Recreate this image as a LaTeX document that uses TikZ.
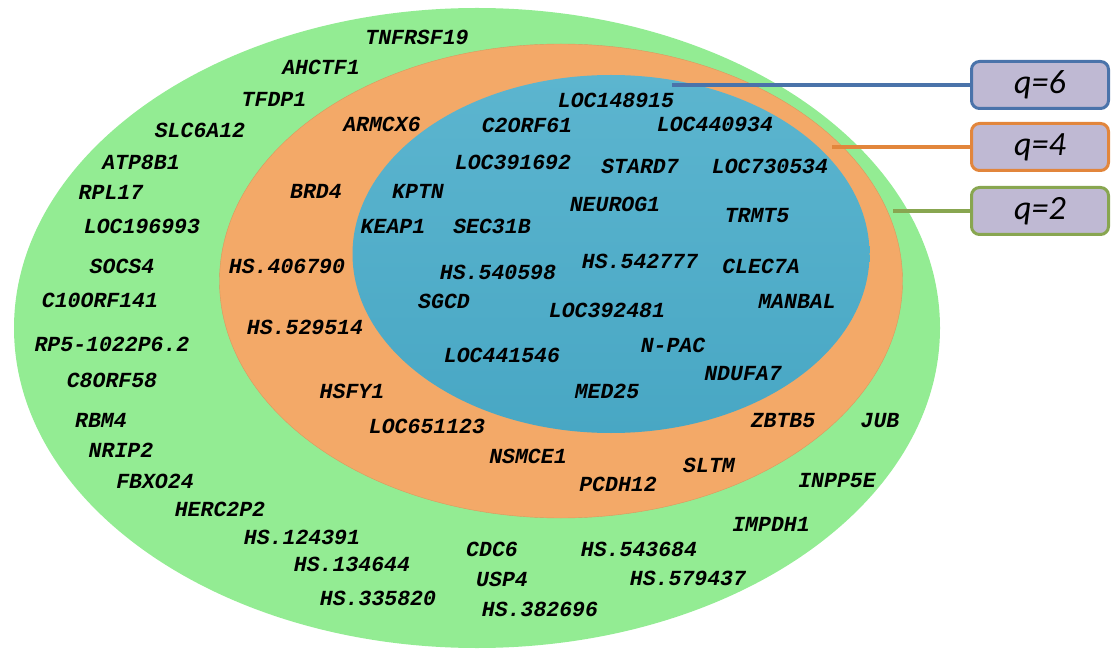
\documentclass[tikz,border=0pt]{standalone}
\usepackage{fontspec}
\setmonofont{Liberation Mono}
\newfontfamily\boxfont{Carlito}
\definecolor{ringgreen}{RGB}{147,236,147}
\definecolor{ringorange}{RGB}{243,169,104}
\definecolor{ringbluetop}{RGB}{92,181,207}
\definecolor{ringbluebot}{RGB}{72,167,196}
\definecolor{boxfill}{RGB}{191,185,211}
\definecolor{edgeblue}{RGB}{74,115,170}
\definecolor{edgeorange}{RGB}{226,134,60}
\definecolor{edgegreen}{RGB}{136,166,80}
\usetikzlibrary{positioning, shapes.geometric}

\begin{document}
\begin{tikzpicture}[
  x=1pt, y=-1pt,
  ring/.style={ellipse, inner sep=0pt, minimum width=#1},
  gene/.style={font=\fontsize{21.5}{24}\selectfont\ttfamily\bfseries\itshape, inner sep=0pt},
  qbox/.style={draw=#1, line width=3pt, rounded corners=8pt, fill=boxfill,
               minimum width=137pt, minimum height=47pt,
               font=\fontsize{34}{36}\selectfont\boxfont\itshape},
  lead/.style={draw=#1, line width=3.5pt},
]
\useasboundingbox (0,0) rectangle (1111,652);

% --- Three nested rings ---
\node[ring=926pt, minimum height=640pt, fill=ringgreen] (ring2) at (477,328) {};
\node[ring=683pt, minimum height=474pt, fill=ringorange, draw=ringorange!90!black, line width=0.4pt] (ring4) at (561,281) {};
\node[ring=517pt, minimum height=358pt, top color=ringbluetop, bottom color=ringbluebot] (ring6) at (611,254) {};

% --- Genes with q=2 ---
\node[gene] (g01) at (417,37)  {TNFRSF19};
\node[gene] (g02) at (321,67)  {AHCTF1};
\node[gene] (g03) at (274,99)  {TFDP1};
\node[gene] (g04) at (200,130) {SLC6A12};
\node[gene] (g05) at (141,162) {ATP8B1};
\node[gene] (g06) at (111,192) {RPL17};
\node[gene] (g07) at (142,226) {LOC196993};
\node[gene] (g08) at (122,266) {SOCS4};
\node[gene] (g09) at (100,300) {C10ORF141};
\node[gene] (g10) at (112,344) {RP5-1022P6.2};
\node[gene] (g11) at (112,380) {C8ORF58};
\node[gene] (g12) at (101,420) {RBM4};
\node[gene] (g13) at (121,450) {NRIP2};
\node[gene] (g14) at (155,481) {FBXO24};
\node[gene] (g15) at (220,509) {HERC2P2};
\node[gene] (g16) at (302,537) {HS.124391};
\node[gene] (g17) at (352,564) {HS.134644};
\node[gene] (g18) at (378,598) {HS.335820};
\node[gene] (g19) at (492,549) {CDC6};
\node[gene] (g20) at (502,579) {USP4};
\node[gene] (g21) at (540,609) {HS.382696};
\node[gene] (g22) at (639,549) {HS.543684};
\node[gene] (g23) at (688,578) {HS.579437};
\node[gene] (g24) at (771,524) {IMPDH1};
\node[gene] (g25) at (837,481) {INPP5E};
\node[gene] (g26) at (880,421) {JUB};

% --- Genes with q=4 ---
\node[gene] (h01) at (382,124) {ARMCX6};
\node[gene] (h02) at (316,191) {BRD4};
\node[gene] (h03) at (287,266) {HS.406790};
\node[gene] (h04) at (305,327) {HS.529514};
\node[gene] (h05) at (352,391) {HSFY1};
\node[gene] (h06) at (427,426) {LOC651123};
\node[gene] (h07) at (528,456) {NSMCE1};
\node[gene] (h08) at (618,484) {PCDH12};
\node[gene] (h09) at (709,465) {SLTM};
\node[gene] (h10) at (783,421) {ZBTB5};

% --- Genes with q=6 ---
\node[gene] (k01) at (616,100) {LOC148915};
\node[gene] (k02) at (527,125) {C2ORF61};
\node[gene] (k03) at (715,124) {LOC440934};
\node[gene] (k04) at (513,162) {LOC391692};
\node[gene] (k05) at (640,166) {STARD7};
\node[gene] (k06) at (770,166) {LOC730534};
\node[gene] (k07) at (418,191) {KPTN};
\node[gene] (k08) at (615,204) {NEUROG1};
\node[gene] (k09) at (757,216) {TRMT5};
\node[gene] (k10) at (393,226) {KEAP1};
\node[gene] (k11) at (492,226) {SEC31B};
\node[gene] (k12) at (640,261) {HS.542777};
\node[gene] (k13) at (498,272) {HS.540598};
\node[gene] (k14) at (761,266) {CLEC7A};
\node[gene] (k15) at (444,301) {SGCD};
\node[gene] (k16) at (607,310) {LOC392481};
\node[gene] (k17) at (797,301) {MANBAL};
\node[gene] (k18) at (673,345) {N-PAC};
\node[gene] (k19) at (502,355) {LOC441546};
\node[gene] (k20) at (743,374) {NDUFA7};
\node[gene] (k21) at (607,391) {MED25};

% --- Legend boxes ---
\node[qbox=edgeblue]   (q6) at (1040,85)  {q=6};
\node[qbox=edgeorange] (q4) at (1040,147) {q=4};
\node[qbox=edgegreen]  (q2) at (1040,211) {q=2};

% --- Leader lines into the rings ---
\coordinate (p6) at (672,85);
\coordinate (p4) at (832,147);
\coordinate (p2) at (893,211);
\draw[lead=edgeblue]   (p6) -- (q6.west);
\draw[lead=edgeorange] (p4) -- (q4.west);
\draw[lead=edgegreen]  (p2) -- (q2.west);

\end{tikzpicture}
\end{document}
